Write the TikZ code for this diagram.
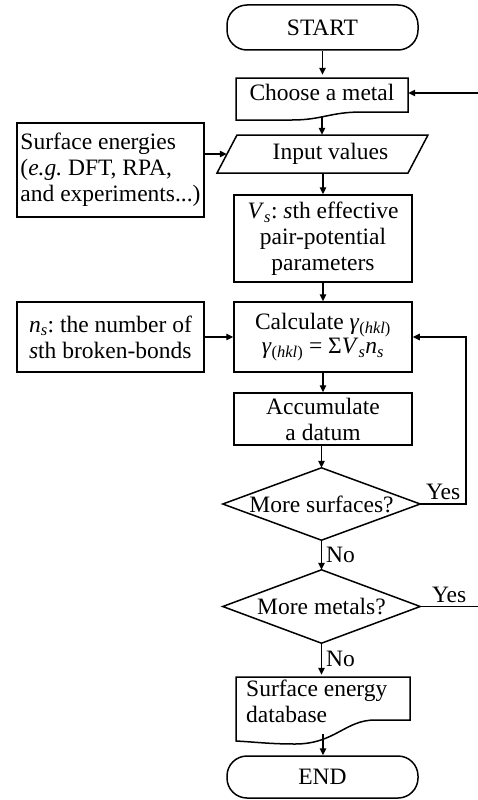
\documentclass[tikz,border=0pt]{standalone}
\usepackage{fontspec}
\setmainfont{Liberation Serif}
\frenchspacing
\usetikzlibrary{arrows.meta,calc}
\begin{document}
\begin{tikzpicture}[x=1pt,y=1pt,
  every node/.append style={font=\fontsize{23.5pt}{26pt}\selectfont, inner sep=2pt},
  box/.style={draw, line width=1.5pt, align=center},
  ol/.style={line width=1.5pt, line join=miter},
  ln/.style={line width=1.4pt},
  arr/.style={line width=1.4pt, -{Triangle[length=7pt,width=6.5pt]}},
  lbl/.style={inner sep=1pt}
]
\useasboundingbox (0,0) rectangle (478,-800);

% START
\node[box, rounded corners=20pt, minimum width=191pt, minimum height=45pt] (start) at (322.5,-27.5) {START};

% Choose a metal (document)
\node[minimum width=172pt, minimum height=34pt] (choose) at (322,-92) {Choose a metal};
\draw[ol] (236,-78) -- (408,-78) -- (408,-112) -- (362,-112)
  .. controls (330,-112) and (322,-120) .. (292,-120) -- (236,-120) -- cycle;
\coordinate (chooseb) at (322,-116);

% Input values (parallelogram)
\node[minimum width=191pt, minimum height=38pt] (input) at (322.5,-154) {\hspace*{16pt}Input values};
\draw[ol] (217,-173) -- (237,-135) -- (428,-135) -- (408,-173) -- cycle;

% Surface energies
\node[box, minimum width=187pt, minimum height=94pt, align=left] (surf) at (110.5,-170)
  {Surface energies\\(\textit{e.g.} DFT, RPA,\\and experiments...)};

% Vs
\node[box, minimum width=178pt, minimum height=87pt] (vs) at (323,-238.5)
  {\textit{V}\textsubscript{\textit{s}}: \textit{s}th effective\\pair-potential\\parameters};

% Calculate
\node[box, minimum width=178pt, minimum height=70pt, font=\fontsize{23.5pt}{24pt}\selectfont] (calc) at (323,-337)
  {Calculate \textit{γ}\textsubscript{(\textit{hkl})}\\\textit{γ}\textsubscript{(\textit{hkl})} = Σ\textit{V}\textsubscript{\textit{s}}\textit{n}\textsubscript{\textit{s}}};

% ns
\node[box, minimum width=187pt, minimum height=70pt, align=left] (ns) at (110.5,-337)
  {\textit{n}\textsubscript{\textit{s}}: the number of\\\textit{s}th broken-bonds};

% Accumulate
\node[box, minimum width=178pt, minimum height=52pt] (acc) at (323,-419) {Accumulate\\a datum};

% Diamonds
\node[minimum width=197pt, minimum height=72pt, inner sep=0pt] (d1) at (321.5,-504) {More surfaces?};
\draw[ol] (d1.north) -- (d1.east) -- (d1.south) -- (d1.west) -- cycle;
\node[minimum width=197pt, minimum height=73pt, inner sep=0pt] (d2) at (321.5,-606.5) {More metals?};
\draw[ol] (d2.north) -- (d2.east) -- (d2.south) -- (d2.west) -- cycle;

% Database (document)
\node[minimum width=174pt, minimum height=58pt, align=left] (db) at (323,-704) {};
\node[align=left, anchor=north west, inner sep=0pt] (dbt) at (246,-680) {Surface energy\\database};
\draw[ol] (236,-677) -- (410,-677) -- (410,-720) -- (375,-720)
  .. controls (345,-720) and (335,-744) .. (295,-744)
  .. controls (270,-744) and (255,-742) .. (236,-741) -- cycle;
\coordinate (dbb) at (323,-734);

% END
\node[box, rounded corners=20pt, minimum width=191pt, minimum height=42pt] (stop) at (322.5,-777) {END};

% connectors
\coordinate (rin) at (478,-93);
\coordinate (loopc) at (466,0);
\coordinate (rout) at (478,-606.5);

\draw[arr] (start.south) -- (start.south |- choose.north);
\draw[arr] (rin) -- (rin -| choose.east);
\draw[arr] (chooseb) -- (chooseb |- input.north);
\draw[arr] (surf.east |- input.west) -- (input.west);
\draw[arr] (input.south -| vs.north) -- (vs.north);
\draw[arr] (vs.south) -- (calc.north);
\draw[arr] (ns.east) -- (calc.west);
\draw[arr] (calc.south) -- (acc.south |- acc.north);
\draw[arr] (acc.south -| d1.north) -- (d1.north);
\draw[arr] (d1.east) -- node[lbl, above, yshift=3pt]{Yes} (d1.east -| loopc) |- (calc.east);
\draw[arr] (d1.south) -- node[lbl, right, xshift=3pt]{No} (d2.north);
\draw[ln] (d2.east) -- node[lbl, above, yshift=2pt]{Yes} (rout);
\draw[arr] (d2.south) -- node[lbl, right, xshift=3pt]{No} (d2.south |- db.north);
\draw[arr] (dbb) -- (dbb |- stop.north);
\end{tikzpicture}
\end{document}
